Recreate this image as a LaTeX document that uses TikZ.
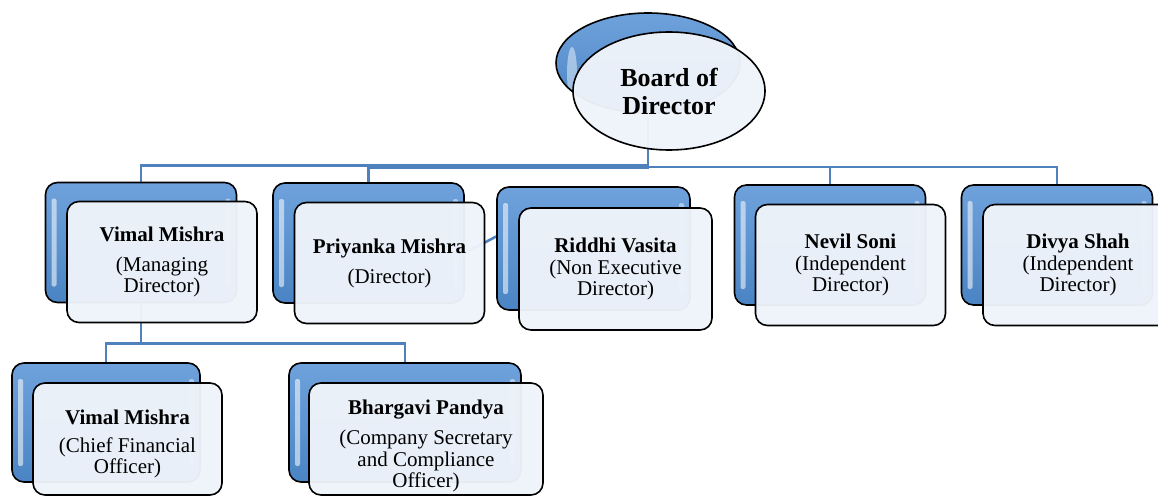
\documentclass[tikz,border=0pt]{standalone}
\usepackage{fontspec}
\setmainfont{Liberation Serif}
\usetikzlibrary{shapes.geometric}
\usetikzlibrary{backgrounds}
\definecolor{linkblue}{HTML}{4F81BD}
\definecolor{backtop}{HTML}{6FA2DC}
\definecolor{backbot}{HTML}{4A84C4}
\definecolor{frontfill}{HTML}{EEF3FA}
\begin{document}
\begin{tikzpicture}[x=1pt,y=-1pt,
  back node/.style={rectangle,rounded corners=12pt,draw,line width=1.6pt,top color=backtop,bottom color=backbot,
    minimum width=191pt,minimum height=120pt,inner sep=0pt,
    path picture={\fill[white,opacity=.55,rounded corners=2pt] ([xshift=6pt,yshift=-16pt]path picture bounding box.north west) rectangle ([xshift=11pt,yshift=16pt]path picture bounding box.south west);
      \fill[white,opacity=.45,rounded corners=2pt] ([xshift=-6pt,yshift=-16pt]path picture bounding box.north east) rectangle ([xshift=-11pt,yshift=16pt]path picture bounding box.south east);}},
  front node/.style={rectangle,rounded corners=12pt,draw,line width=1.6pt,fill=frontfill,fill opacity=.97,text opacity=1,
    minimum width=190pt,minimum height=121pt,inner sep=0pt,align=center,font=\fontsize{21}{21.5}\selectfont},
  member text/.style={align=center,font=\fontsize{21}{21.5}\selectfont},
  board back/.style={ellipse,draw,line width=1.6pt,top color=backtop,bottom color=backbot,minimum width=184pt,minimum height=100pt,inner sep=0pt,
    path picture={\fill[white,opacity=.45] ([xshift=16pt,yshift=-10pt]path picture bounding box.west) ellipse (5pt and 26pt);}},
  board front/.style={ellipse,draw,line width=1.6pt,fill=frontfill,fill opacity=.97,text opacity=1,minimum width=192pt,minimum height=118pt,
    inner sep=0pt,align=center,font=\fontsize{26}{28}\selectfont\bfseries},
  link/.style={draw=linkblue,line width=2.6pt}]

  \useasboundingbox (0,0) rectangle (1158,497);
  \clip (0,0) rectangle (1158,497);

  % board
  \node[board back] (boardb) at (648,63) {};
  \node[board front] (board) at ([shift={(21,28)}]boardb) {Board of\\Director};

  % first level
  \node[back node] (vimalb) at (141,242.5) {};
  \node[front node] (vimal) at ([shift={(21,19.5)}]vimalb) {{\bfseries Vimal Mishra}\\[8pt](Managing\\Director)};
  \node[back node] (priyankab) at (368.5,243) {};
  \node[front node] (priyanka) at ([shift={(21,20)}]priyankab) {{\bfseries Priyanka Mishra}\\[8.5pt](Director)};
  \node[back node,minimum width=193pt,minimum height=123pt] (riddhib) at (593.5,248.5) {};
  \node[front node,minimum width=193pt,minimum height=122pt] (riddhi) at ([shift={(22,20.5)}]riddhib) {{\bfseries Riddhi Vasita}\\(Non Executive\\Director)};
  \node[back node] (nevilb) at (830,245) {};
  \node[front node] (nevil) at ([shift={(20.5,20)}]nevilb) {{\bfseries Nevil Soni}\\(Independent\\Director)};
  \node[back node] (divyab) at (1057,245) {};
  \node[front node] (divya) at ([shift={(21,20)}]divyab) {{\bfseries Divya Shah}\\(Independent\\Director)};

  % second level
  \node[back node,minimum width=188pt,minimum height=119pt] (cfob) at (106,422.5) {};
  \node[front node,minimum width=189pt,minimum height=112pt] (cfo) at ([shift={(21.5,16.5)}]cfob) {};
  \node[member text] (cfotext) at ([yshift=-5pt]cfo) {{\bfseries Vimal Mishra}\\[6.5pt](Chief Financial\\Officer)};
  \node[back node,minimum width=232pt,minimum height=119pt] (bhargavib) at (405,422.5) {};
  \node[front node,minimum width=234pt,minimum height=112pt] (bhargavi) at ([shift={(21,16.5)}]bhargavib) {};
  \node[member text] (bhargavitext) at ([yshift=-7pt]bhargavi) {{\bfseries Bhargavi Pandya}\\[8.5pt](Company Secretary\\and Compliance\\Officer)};

  \begin{scope}[on background layer]
    \draw[link] (boardb.south) |- ([yshift=16pt]vimalb.north) -- (vimalb.north);
    \draw[link] (boardb.south) |- ([yshift=14pt]priyankab.north) -- (priyankab.north);
    \draw[link] (boardb.south) |- ([yshift=17pt]nevilb.north) -- (nevilb.north);
    \draw[link] (boardb.south) |- ([yshift=17pt]divyab.north) -- (divyab.north);
    \draw[link] ([yshift=-10pt]priyankab.east) -- ([yshift=12pt]riddhib.west);
    \draw[link] (vimalb.south) |- ([yshift=19pt]cfob.north) -- (cfob.north);
    \draw[link] (vimalb.south) |- ([yshift=19pt]bhargavib.north) -- (bhargavib.north);
  \end{scope}

\end{tikzpicture}
\end{document}
